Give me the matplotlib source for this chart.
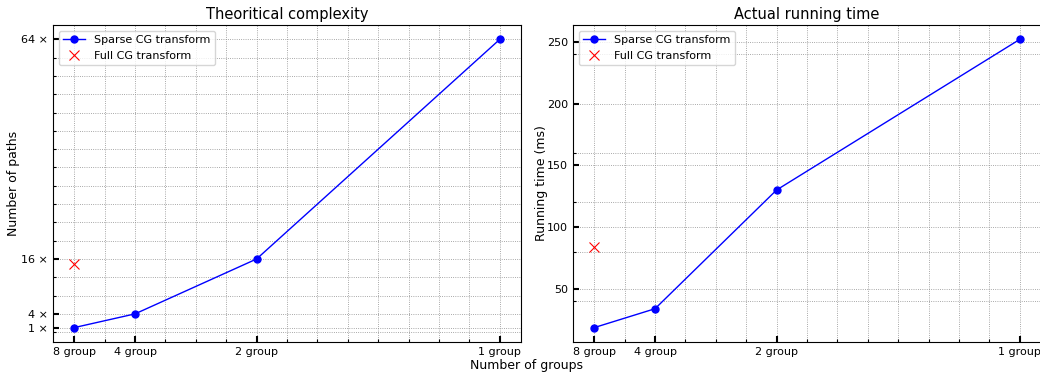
import matplotlib
matplotlib.use("Agg")
import matplotlib.pyplot as plt
from matplotlib.ticker import FixedLocator, MultipleLocator

# Data
x_pos = [0.125, 0.25, 0.5, 1.0]
x_labels = ["8 group", "4 group", "2 group", "1 group"]
sparse_paths = [1, 4, 16, 64]
full_paths_x = [0.125]
full_paths = [15]
path_ticks = [1, 4, 16, 64]
path_tick_labels = ["1 ×", "4 ×", "16 ×", "64 ×"]
sparse_time = [18.5, 33.8, 130, 252]
full_time_x = [0.125]
full_time = [83.6]

fig = plt.figure(figsize=(10.4, 3.73), dpi=100)
ax1 = fig.add_axes([53/1040, 31/373, 468/1040, 317/373])
ax2 = fig.add_axes([573/1040, 31/373, 468/1040, 317/373])

for ax in (ax1, ax2):
    ax.set_xticks(x_pos)
    ax.set_xticklabels(x_labels)
    ax.xaxis.set_minor_locator(MultipleLocator(0.0625))
    ax.tick_params(which="both", direction="in", top=False, right=False, labelsize=8)
    ax.tick_params(which="major", length=4, width=1.5)
    ax.tick_params(which="minor", length=2, width=0.8)
    ax.grid(True, which="both", linestyle=":", color="#8c8c8c", linewidth=0.6)
    ax.set_axisbelow(True)

ax1.plot(x_pos, sparse_paths, color="blue", marker="o", markersize=5, linewidth=1,
         label="Sparse CG transform")
ax1.plot(full_paths_x, full_paths, color="red", marker="x", markersize=7, linestyle="none",
         markeredgewidth=0.8, label="Full CG transform")
ax1.yaxis.set_major_locator(FixedLocator(path_ticks))
ax1.set_yticklabels(path_tick_labels)
ax1.yaxis.set_minor_locator(MultipleLocator(4))
ax1.set_ylabel("Number of paths", fontsize=9, labelpad=1)
ax1.set_title("Theoritical complexity", fontsize=10.5, pad=4.5)
ax1.legend(loc="upper left", fontsize=8)

ax2.plot(x_pos, sparse_time, color="blue", marker="o", markersize=5, linewidth=1,
         label="Sparse CG transform")
ax2.plot(full_time_x, full_time, color="red", marker="x", markersize=7, linestyle="none",
         markeredgewidth=0.8, label="Full CG transform")
ax2.yaxis.set_major_locator(MultipleLocator(50))
ax2.yaxis.set_minor_locator(MultipleLocator(40))
ax2.set_ylabel("Running time (ms)", fontsize=9, labelpad=-0.5)
ax2.set_title("Actual running time", fontsize=10.5, pad=4.5)
ax2.legend(loc="upper left", fontsize=8)

fig.text(527/1040, 1 - 366/373, "Number of groups", ha="center", va="center", fontsize=9)

fig.savefig("out.png", dpi=100)
